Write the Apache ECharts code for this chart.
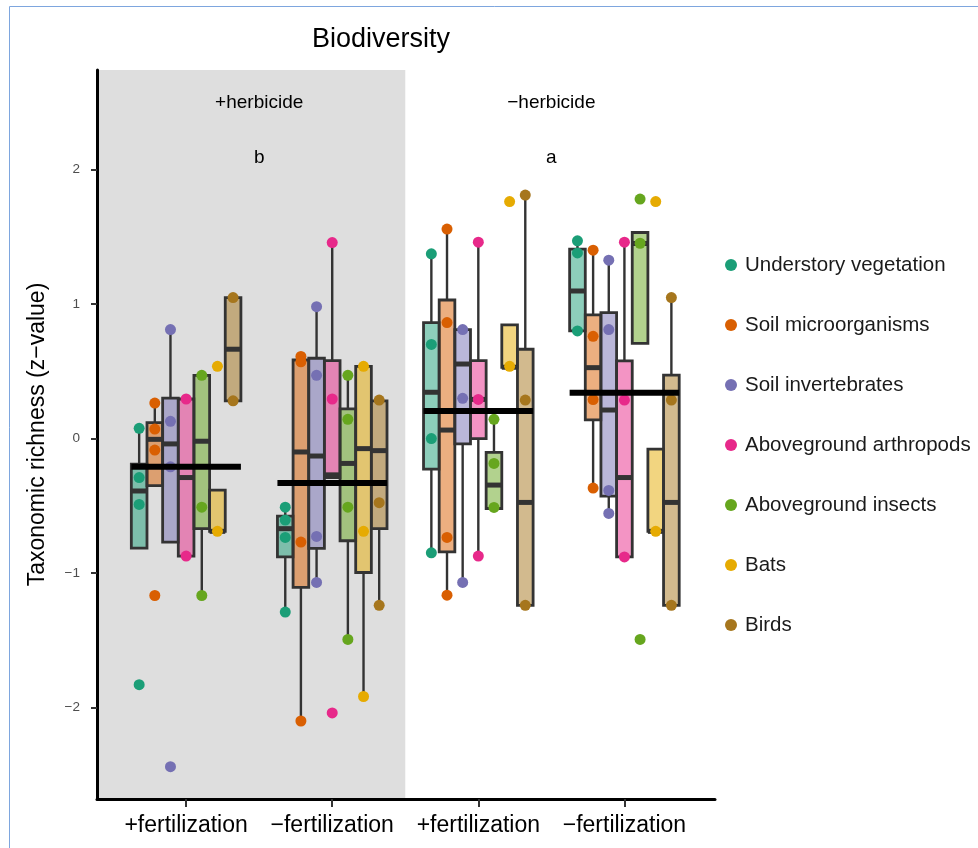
<!DOCTYPE html>
<html><head><meta charset="utf-8">
<script src="https://cdn.jsdelivr.net/npm/echarts@6/dist/echarts.min.js"></script>
<style>html,body{margin:0;padding:0;background:#fff}#c{width:978px;height:848px}</style>
</head><body><div id="c"></div>
<script>
// ---------- data ----------
const groupLabels = ['+fertilization', '\u2212fertilization', '+fertilization', '\u2212fertilization'];
const taxa = ['Understory vegetation', 'Soil microorganisms', 'Soil invertebrates',
  'Aboveground arthropods', 'Aboveground insects', 'Bats', 'Birds'];
const colors = ['#1B9E77', '#D95F02', '#7570B3', '#E7298A', '#66A61E', '#E6AB02', '#A6761D'];
const yTicks = [-2, -1, 0, 1, 2];
const xTicks = [1, 2, 3, 4];

// box stats per group: [lower whisker, q1, median, q3, upper whisker]
const boxUnderstory = [[-0.815, -0.815, -0.39, -0.19, 0.076], [-1.29, -0.88, -0.67, -0.577, -0.51], [-0.85, -0.227, 0.344, 0.862, 1.373], [0.80, 0.80, 1.097, 1.408, 1.47]];
const boxSoilMicro  = [[-0.35, -0.35, -0.006, 0.118, 0.264], [-2.10, -1.107, -0.10, 0.584, 0.61], [-1.165, -0.842, 0.063, 1.03, 1.557], [-0.368, 0.138, 0.527, 0.919, 1.40]];
const boxSoilInv    = [[-0.77, -0.77, -0.04, 0.30, 0.81], [-1.07, -0.817, -0.13, 0.597, 0.98], [-1.07, -0.04, 0.554, 0.81, 0.81], [-0.557, -0.428, 0.212, 0.936, 1.326]];
const boxArthropods = [[-0.874, -0.874, -0.29, 0.294, 0.294], [-0.29, -0.29, -0.27, 0.579, 1.457], [-0.874, 0.0, 0.291, 0.579, 1.46], [-0.88, -0.88, -0.29, 0.577, 1.46]];
const boxInsects    = [[-1.167, -0.67, -0.02, 0.47, 0.47], [-1.494, -0.76, -0.185, 0.22, 0.47], [-0.52, -0.52, -0.346, -0.103, 0.143], [0.708, 0.708, 1.45, 1.532, 1.532]];
const boxBats       = [[-0.69, -0.69, -0.69, -0.383, -0.383], [-1.918, -0.996, -0.075, 0.537, 0.537], [0.53, 0.53, 0.53, 0.845, 0.845], [-0.69, -0.69, -0.69, -0.078, -0.078]];
const boxBirds      = [[0.28, 0.28, 0.664, 1.048, 1.048], [-1.24, -0.67, -0.09, 0.28, 0.286], [-1.24, -1.24, -0.475, 0.664, 1.81], [-1.24, -1.24, -0.475, 0.472, 1.048]];

// observed points per group
const ptsUnderstory = [[0.076, -0.29, -0.49, -1.83], [-0.51, -0.606, -0.735, -1.29], [1.373, 0.70, 0.0, -0.85], [1.47, 1.38, 0.80]];
const ptsSoilMicro  = [[0.264, 0.07, -0.086, -1.167], [0.61, 0.57, -0.77, -2.10], [1.557, 0.862, -0.735, -1.165], [1.40, 0.76, 0.29, -0.368]];
const ptsSoilInv    = [[0.81, 0.128, -0.21, -2.44], [0.98, 0.47, -0.728, -1.07], [0.81, 0.299, -1.07], [1.326, 0.81, -0.386, -0.557]];
const ptsArthropods = [[0.294, -0.874], [1.457, 0.294, -2.04], [1.46, 0.291, -0.874], [1.46, 0.286, -0.88]];
const ptsInsects    = [[0.47, -0.51, -1.167], [0.47, 0.143, -0.51, -1.494], [0.143, -0.185, -0.512], [1.78, 1.452, -1.494]];
const ptsBats       = [[0.537, -0.69], [0.537, -0.69, -1.918], [1.762, 0.537], [1.762, -0.69]];
const ptsBirds      = [[1.048, 0.28], [0.286, -0.477, -1.24], [1.81, 0.286, -1.24], [1.048, 0.286, -1.24]];

const groupMeans = [-0.21, -0.331, 0.205, 0.341];
const panelLabels = ['+herbicide', '\u2212herbicide'];
const panelLetters = ['b', 'a'];

// ---------- build ----------
const allBoxes = [boxUnderstory, boxSoilMicro, boxSoilInv, boxArthropods, boxInsects, boxBats, boxBirds];
const allPts = [ptsUnderstory, ptsSoilMicro, ptsSoilInv, ptsArthropods, ptsInsects, ptsBats, ptsBirds];
const dodge = 0.75, nT = taxa.length, slot = dodge / nT;
const off = k => (k - (nT - 1) / 2) * slot;
const FONT = '"Liberation Sans", Arial, Helvetica, sans-serif';
const X_MIN = 0.39, X_MAX = 4.62;

const boxData = [];
allBoxes.forEach((arr, k) => arr.forEach((s, g) => boxData.push([g + 1 + off(k), s[0], s[1], s[2], s[3], s[4], k])));

function hexA(hex, a) {
  const n = parseInt(hex.slice(1), 16);
  return `rgba(${n >> 16},${(n >> 8) & 255},${n & 255},${a})`;
}

const series = [];
// herbicide panel
series.push({
  type: 'custom', silent: true, z: 0,
  data: [[X_MIN, 2.5]],
  renderItem(params, api) {
    const a = api.coord([api.value(0), 0]), b = api.coord([api.value(1), 0]);
    const cs = params.coordSys;
    return { type: 'rect', shape: { x: a[0], y: cs.y, width: b[0] - a[0], height: cs.height }, style: { fill: '#dedede' } };
  }
});
// boxes
series.push({
  type: 'custom', silent: true, z: 2,
  data: boxData,
  renderItem(params, api) {
    const x = api.value(0), lo = api.value(1), q1 = api.value(2), med = api.value(3), q3 = api.value(4), hi = api.value(5), k = api.value(6);
    const h = slot / 2;
    const tl = api.coord([x - h, q3]), br = api.coord([x + h, q1]);
    const pLo = api.coord([x, lo]), pHi = api.coord([x, hi]);
    const mL = api.coord([x - h, med]), mR = api.coord([x + h, med]);
    const stroke = '#333333';
    return {
      type: 'group', children: [
        { type: 'line', shape: { x1: pHi[0], y1: pHi[1], x2: pHi[0], y2: tl[1] }, style: { stroke, lineWidth: 2.4 } },
        { type: 'line', shape: { x1: pLo[0], y1: br[1], x2: pLo[0], y2: pLo[1] }, style: { stroke, lineWidth: 2.4 } },
        { type: 'rect', shape: { x: tl[0], y: tl[1], width: br[0] - tl[0], height: Math.max(br[1] - tl[1], 0.5) },
          style: { fill: hexA(colors[k], 0.5), stroke, lineWidth: 2.8 } },
        { type: 'line', shape: { x1: mL[0], y1: mL[1], x2: mR[0], y2: mR[1] }, style: { stroke, lineWidth: 5 } }
      ]
    };
  }
});
// points
taxa.forEach((name, k) => {
  const d = [];
  allPts[k].forEach((arr, g) => arr.forEach(v => d.push([g + 1 + off(k), v])));
  series.push({ type: 'scatter', name, data: d, symbol: 'circle', symbolSize: 11, z: 3,
    itemStyle: { color: colors[k], opacity: 1 } });
});
// group means
series.push({
  type: 'custom', silent: true, z: 4,
  data: groupMeans.map((m, g) => [g + 1, m]),
  renderItem(params, api) {
    const a = api.coord([api.value(0) - dodge / 2, api.value(1)]), b = api.coord([api.value(0) + dodge / 2, api.value(1)]);
    return { type: 'line', shape: { x1: a[0], y1: a[1], x2: b[0], y2: b[1] }, style: { stroke: '#000', lineWidth: 6 } };
  }
});
// panel labels
series.push({
  type: 'custom', silent: true, z: 5,
  data: [[1.5, 2.5], [3.5, 2.5]],
  renderItem(params, api) {
    const p = api.coord([api.value(0), api.value(1)]);
    const q = api.coord([api.value(0), 2.09]);
    const i = params.dataIndex;
    return { type: 'group', children: [
      { type: 'text', style: { text: panelLabels[i], x: p[0], y: p[1], align: 'center', verticalAlign: 'middle', font: `19px ${FONT}`, fill: '#000' } },
      { type: 'text', style: { text: panelLetters[i], x: q[0], y: q[1], align: 'center', verticalAlign: 'middle', font: `19px ${FONT}`, fill: '#000' } }
    ] };
  }
});

const chart = echarts.init(document.getElementById('c'), null, { renderer: 'canvas' });
chart.setOption({
  animation: false,
  backgroundColor: '#fff',
  textStyle: { fontFamily: FONT },
  title: { text: 'Biodiversity', left: 376, top: 21, textAlign: 'center',
    textStyle: { fontSize: 27, fontWeight: 'normal', color: '#000', fontFamily: FONT } },
  legend: {
    data: taxa, orient: 'vertical', left: 720, top: 248, icon: 'circle',
    itemWidth: 18, itemHeight: 12, itemGap: 36,
    textStyle: { fontSize: 20.5, color: '#1a1a1a', lineHeight: 24, fontFamily: FONT }
  },
  graphic: [{ type: 'rect', silent: true, shape: { x: 9.5, y: 6.5, width: 1200, height: 1200 }, style: { fill: 'none', stroke: '#7ea6de', lineWidth: 1 } }],
  grid: { left: 97, top: 70, width: 618, height: 729, containLabel: false, outerBoundsMode: 'none' },
  xAxis: {
    type: 'value', min: X_MIN, max: X_MAX,
    splitLine: { show: false },
    axisLine: { onZero: false, lineStyle: { color: '#000', width: 3 } },
    axisTick: { customValues: xTicks, length: 8, lineStyle: { color: '#333', width: 2 } },
    axisLabel: { customValues: xTicks, formatter: v => groupLabels[Math.round(v) - 1], fontSize: 23, color: '#000', margin: 15, fontFamily: FONT }
  },
  yAxis: {
    type: 'value', min: -2.68, max: 2.74,
    name: 'Taxonomic richness (z\u2212value)', nameLocation: 'middle', nameGap: 48,
    nameTextStyle: { fontSize: 23, color: '#000', fontFamily: FONT },
    splitLine: { show: false },
    axisLine: { onZero: false, lineStyle: { color: '#000', width: 3 } },
    axisTick: { customValues: yTicks, length: 6, lineStyle: { color: '#333', width: 2 } },
    axisLabel: { customValues: yTicks, formatter: v => (v < 0 ? '\u2212' + Math.abs(v) : String(v)), fontSize: 13.5, color: '#4d4d4d', margin: 17, fontFamily: FONT }
  },
  series
});
</script></body></html>
